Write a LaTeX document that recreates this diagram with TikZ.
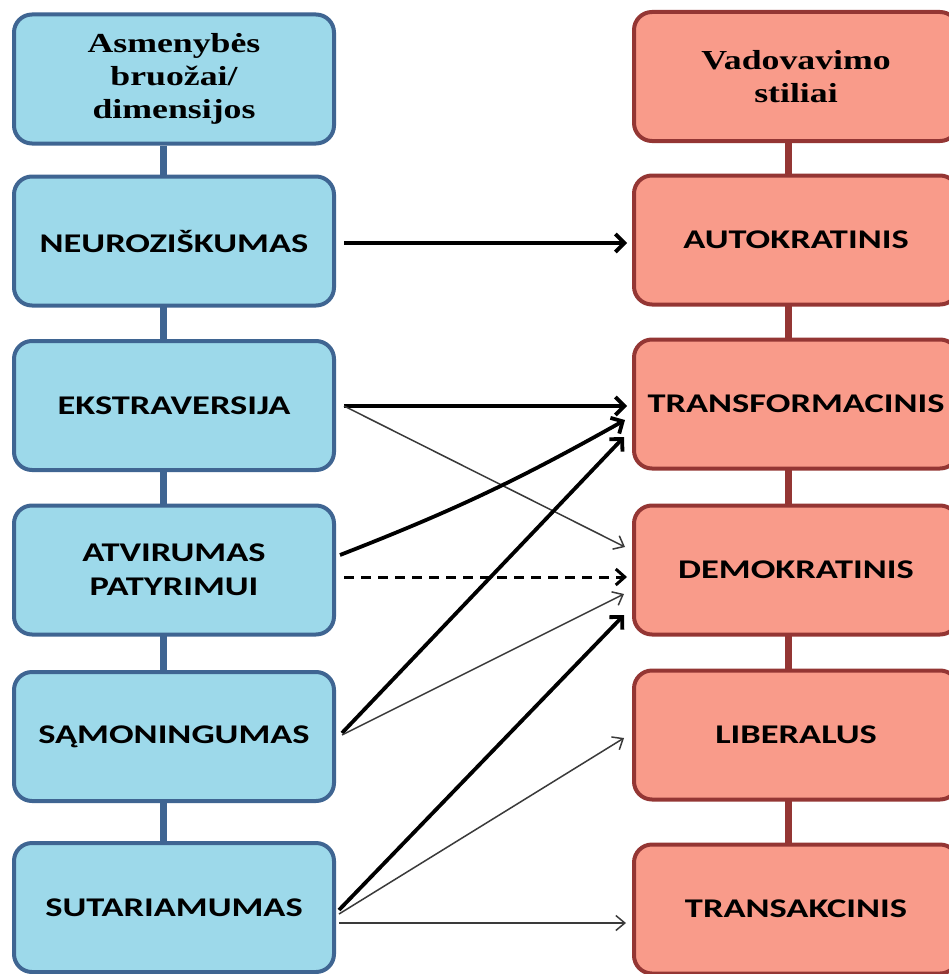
\documentclass[tikz,border=0pt]{standalone}
\usepackage{fontspec}
\usetikzlibrary{arrows.meta,backgrounds,calc}
\newfontfamily\boxsans[FakeStretch=1.35]{Carlito}
\newfontfamily\headserif[FakeStretch=1.3]{Liberation Serif}
\definecolor{lfill}{HTML}{9DD9EA}
\definecolor{ldraw}{HTML}{3F6592}
\definecolor{rfill}{HTML}{F99B8A}
\definecolor{rdraw}{HTML}{943634}
\definecolor{thingray}{HTML}{3A3A3A}
\tikzset{
  box/.style={rectangle, rounded corners=18pt, line width=4pt, minimum height=129pt,
    inner sep=0pt, align=center, font=\boxsans\bfseries\fontsize{27}{34}\selectfont},
  lbox/.style={box, fill=lfill, draw=ldraw, minimum width=320pt},
  rbox/.style={box, fill=rfill, draw=rdraw, minimum width=324pt},
  headtxt/.style={font=\headserif\bfseries\fontsize{27.5}{33}\selectfont},
  strong/.style={line width=3.8pt, black, -{Straight Barb[length=9pt,width=18pt]}},
  weak/.style={line width=1.5pt, thingray, -{Straight Barb[length=9pt,width=15pt]}},
  dashlink/.style={line width=3pt, black, dash pattern=on 10pt off 7pt, -{Straight Barb[length=9pt,width=16pt]}},
  lconn/.style={line width=7pt, ldraw},
  rconn/.style={line width=7pt, rdraw},
}
\begin{document}
\begin{tikzpicture}[x=1pt,y=-1pt]
\useasboundingbox (0,0) rectangle (948,974);
% left column
\node[lbox, headtxt] (hdrL) at (174,79) {Asmenybės\\bruožai/\\dimensijos};
\node[lbox] (neu) at (174,241) {NEUROZIŠKUMAS};
\node[lbox] (eks) at (174,405.5) {EKSTRAVERSIJA};
\node[lbox] (atv) at (174,570) {ATVIRUMAS\\PATYRIMUI};
\node[lbox] (sam) at (174,736.5) {SĄMONINGUMAS};
\node[lbox] (sut) at (174,907.5) {SUTARIAMUMAS};
% right column
\node[rbox, headtxt] (hdrR) at (796,76.5) {Vadovavimo\\stiliai};
\node[rbox] (aut) at (796,240) {AUTOKRATINIS};
\node[rbox] (tra) at (796,404) {TRANSFORMACINIS};
\node[rbox] (dem) at (796,570) {DEMOKRATINIS};
\node[rbox] (lib) at (796,735) {LIBERALUS};
\node[rbox] (trk) at (796,909) {TRANSAKCINIS};
\begin{scope}[on background layer]
  \fill[white] (0,0) rectangle (948,974);
  \draw[lconn] ([xshift=-11pt]hdrL.south) -- ([xshift=-11pt]sut.north);
  \draw[rconn] ([xshift=-8pt]hdrR.south) -- ([xshift=-8pt]trk.north);
\end{scope}
% arrows
\draw[strong] ([shift={(8pt,-2pt)}]neu.east) -- ([shift={(-5pt,-3pt)}]aut.west);
\draw[strong] ([shift={(8pt,-0.5pt)}]eks.east) -- ([shift={(-5pt,-2pt)}]tra.west);
\draw[weak] ([shift={(8pt,-0.5pt)}]eks.east) -- ([shift={(-7pt,23pt)}]dem.west);
\draw[strong] ([shift={(4pt,15pt)}]atv.east) to[bend right=4] ([shift={(-7pt,-16pt)}]tra.west);
\draw[dashlink] ([shift={(8pt,-7pt)}]atv.east) -- ([shift={(-5pt,-7pt)}]dem.west);
\draw[strong] ([shift={(6pt,3.5pt)}]sam.east) -- ([shift={(-8pt,-33pt)}]tra.west);
\draw[weak] ([shift={(6pt,1.5pt)}]sam.east) -- ([shift={(-8pt,-24pt)}]dem.west);
\draw[strong] ([shift={(3pt,-2.5pt)}]sut.east) -- ([shift={(-8pt,-45pt)}]dem.west);
\draw[weak] ([shift={(3pt,-6.5pt)}]sut.east) -- ([shift={(-8pt,-3pt)}]lib.west);
\draw[weak] ([shift={(3pt,-15.5pt)}]sut.east) -- ([shift={(-6pt,-14pt)}]trk.west);
\end{tikzpicture}
\end{document}
